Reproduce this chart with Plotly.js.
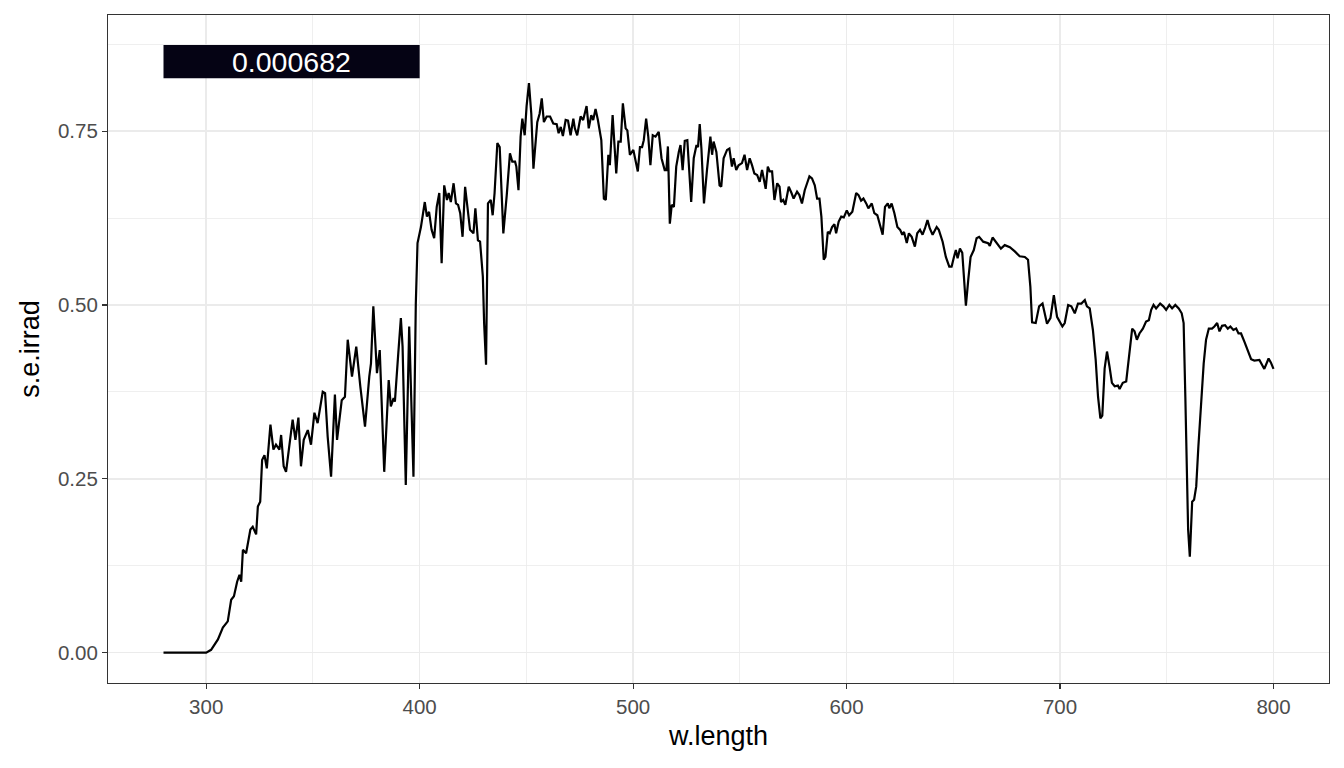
<!DOCTYPE html>
<html>
<head>
<meta charset="utf-8">
<script src="https://cdn.plot.ly/plotly-3.0.1.min.js"></script>
<style>html,body{margin:0;padding:0;background:#fff;}#chart{width:1344px;height:768px;}</style>
</head>
<body>
<div id="chart"></div>
<script>
const w_length = [280,300,302.3,305.5,307.8,310.1,311.7,313,314.5,315.6,316.4,317.2,318.7,320.7,321.8,323.4,324.2,325.3,326.2,327.3,328.4,330.1,331.5,332.7,334.3,335.1,336.3,337.4,340.5,341.8,343.2,344.4,345.7,347.6,349.1,350.7,352.2,354.6,355.7,356.9,358.5,360.3,361.3,363.5,365,366.3,368.3,370.3,372.2,374.4,376.4,377.2,378.3,380,381.3,383.4,385.5,386.5,387.8,388.4,390,391.2,392,393.5,395.1,397.1,398.2,399,400.6,402.4,403.4,404.4,405.6,406.8,408,409.2,410.3,411.5,412.8,413.6,414.6,415.9,417,418,419,420.1,421.3,422.4,423.6,425.2,426.1,427.3,428.3,429.6,430.2,431.1,432,433.3,434.2,435.1,436.4,437.5,439.2,440.8,442.3,443.4,444.7,445.3,446.3,447.3,448.1,449.2,450.1,451.2,452.3,453.3,455.1,456.2,457.2,458.2,459.5,461.1,462.6,464.2,465.1,466.1,467.1,468.4,469.5,470.7,472,472.7,473.8,475.4,476.6,478.2,479.2,480.4,481.3,482.4,483.5,485.1,486.3,487.2,488.4,489.1,490.4,492.1,493.1,494.2,495.2,496.5,497.3,498.5,500.1,502.2,503.2,504.2,505,506.1,507.1,508.1,509.2,510.5,512,513.3,514.8,515.6,516.3,517.2,518.1,519.1,520.2,521.4,522.2,523.2,524.2,525.4,527.2,528.4,529.7,530.4,531.2,532,533.2,534.6,536.2,537,537.7,539,540.5,541.3,542.4,544,545.1,546.3,547.1,548.3,549.4,551,552.2,553.4,554.6,555.7,556.8,558.1,559.3,560.4,561.2,562.1,563.1,564,565.1,566.2,567.5,568.6,569.3,570.3,571.3,572.9,574.2,575.2,576.8,577.9,579.1,580.4,581.5,582.6,583.8,585.1,586.2,587.3,588.2,589.3,590.1,591.2,592.1,593.2,594.3,595.1,596.3,597.5,598.7,600.1,601.2,602.7,604.5,605.6,606.8,607.9,609.2,610.2,611.8,613,614.4,615.7,616.9,618,619.3,620,621.1,622.4,623.8,625.1,626.1,626.9,628.2,629.2,630.5,632,633.1,634.4,635.6,636.7,637.9,639,640.3,642.2,643.2,645,646.5,648.1,649.2,650.3,651.2,652,653.1,654.2,654.9,655.9,657,658.1,659.6,660.9,662.1,664,666.3,667.1,668.4,669.4,671,672.3,674.1,676.5,678.8,681.1,683.5,685,686.1,686.9,688.6,690.2,691.8,693.9,695.5,697.1,698.6,701.1,702.2,703.8,705.3,706.9,708.4,710,711.6,712.6,713.9,715.4,716.7,717.8,718.9,719.8,720.9,722,723.2,724.3,725.6,727.1,727.9,729.4,731,732.6,733.8,734.9,736,737.2,738.8,740.3,741.6,742.7,743.8,745,746.9,748.4,749.7,751.2,752.5,754,755.6,757,757.9,758.7,759.5,760,760.8,761.9,762.8,763.8,764.8,766.1,767.3,768.4,769.7,771.2,772.3,773.6,774.7,775.9,777.3,778.6,779.8,781.2,782.5,783.6,784.8,786.4,787.9,789.5,791,793.4,795.7,797.7,798.8,800];
const s_e_irrad = [0,0,0.004,0.019,0.036,0.045,0.076,0.081,0.102,0.112,0.102,0.148,0.143,0.177,0.181,0.170,0.210,0.217,0.277,0.284,0.265,0.328,0.292,0.299,0.292,0.313,0.268,0.260,0.335,0.306,0.338,0.268,0.306,0.320,0.299,0.345,0.330,0.375,0.373,0.311,0.253,0.371,0.306,0.363,0.368,0.450,0.397,0.440,0.383,0.325,0.397,0.416,0.498,0.402,0.435,0.260,0.392,0.354,0.366,0.361,0.431,0.481,0.440,0.241,0.469,0.253,0.502,0.589,0.612,0.648,0.627,0.634,0.608,0.596,0.641,0.661,0.560,0.672,0.651,0.661,0.648,0.675,0.646,0.644,0.632,0.598,0.670,0.640,0.608,0.603,0.639,0.593,0.591,0.541,0.474,0.414,0.646,0.651,0.629,0.661,0.733,0.727,0.603,0.658,0.718,0.706,0.706,0.699,0.665,0.742,0.768,0.744,0.786,0.819,0.775,0.696,0.763,0.775,0.797,0.763,0.771,0.771,0.761,0.760,0.747,0.756,0.743,0.766,0.765,0.744,0.768,0.754,0.744,0.771,0.766,0.786,0.754,0.773,0.766,0.782,0.766,0.737,0.653,0.651,0.716,0.701,0.773,0.689,0.735,0.735,0.790,0.754,0.751,0.716,0.723,0.692,0.727,0.727,0.737,0.768,0.742,0.701,0.744,0.742,0.749,0.711,0.694,0.694,0.728,0.617,0.644,0.641,0.699,0.720,0.730,0.694,0.736,0.737,0.648,0.711,0.730,0.727,0.760,0.725,0.646,0.694,0.742,0.716,0.735,0.720,0.672,0.670,0.711,0.723,0.725,0.699,0.711,0.694,0.701,0.704,0.716,0.694,0.711,0.701,0.689,0.687,0.677,0.694,0.682,0.667,0.699,0.692,0.692,0.651,0.675,0.670,0.648,0.651,0.644,0.670,0.661,0.653,0.663,0.658,0.646,0.665,0.675,0.685,0.682,0.672,0.653,0.653,0.627,0.565,0.569,0.605,0.603,0.612,0.616,0.603,0.620,0.627,0.626,0.636,0.629,0.634,0.661,0.658,0.650,0.653,0.646,0.639,0.646,0.632,0.629,0.612,0.601,0.641,0.646,0.639,0.646,0.632,0.612,0.608,0.601,0.605,0.589,0.603,0.598,0.584,0.603,0.608,0.601,0.610,0.622,0.610,0.601,0.612,0.608,0.591,0.569,0.555,0.555,0.569,0.579,0.567,0.581,0.575,0.536,0.499,0.536,0.569,0.579,0.596,0.598,0.591,0.589,0.585,0.597,0.593,0.586,0.581,0.586,0.583,0.577,0.570,0.569,0.565,0.526,0.475,0.474,0.498,0.502,0.473,0.481,0.514,0.483,0.469,0.474,0.500,0.498,0.488,0.502,0.502,0.507,0.498,0.495,0.464,0.421,0.368,0.337,0.341,0.409,0.433,0.411,0.388,0.383,0.384,0.379,0.388,0.390,0.433,0.466,0.462,0.450,0.459,0.466,0.476,0.478,0.493,0.500,0.495,0.502,0.498,0.493,0.500,0.495,0.500,0.495,0.488,0.474,0.368,0.249,0.177,0.138,0.217,0.220,0.239,0.296,0.359,0.416,0.450,0.466,0.466,0.469,0.474,0.462,0.470,0.471,0.466,0.469,0.464,0.466,0.459,0.459,0.447,0.435,0.422,0.420,0.421,0.408,0.423,0.417,0.408];

const x_ticks = [300, 400, 500, 600, 700, 800];
const y_ticks = [0, 0.25, 0.5, 0.75];
const y_tick_labels = ["0.00", "0.25", "0.50", "0.75"];
const summary_band = [280, 400];
const summary_label = "0.000682";
const summary_y = [0.826, 0.874];

const FONT = "Liberation Sans, Arial, Helvetica, sans-serif";

const trace = {
  x: w_length, y: s_e_irrad, type: "scatter", mode: "lines",
  line: {color: "#000000", width: 2.2}, hoverinfo: "skip", showlegend: false
};

const layout = {
  width: 1344, height: 768,
  margin: {l: 108, r: 15, t: 15, b: 85},
  paper_bgcolor: "#ffffff", plot_bgcolor: "#ffffff",
  font: {family: FONT, color: "#000000"},
  xaxis: {
    range: [254, 826], tickvals: x_ticks, ticktext: x_ticks.map(String),
    showgrid: true, gridcolor: "#EBEBEB", gridwidth: 1.6,
    minor: {dtick: 50, tick0: 0, showgrid: true, gridcolor: "#EBEBEB", gridwidth: 0.8},
    zeroline: false, showline: true, mirror: true, linecolor: "#333333", linewidth: 1.1,
    ticks: "outside", ticklen: 5, tickwidth: 1.2, tickcolor: "#333333",
    tickfont: {family: FONT, size: 20.5, color: "#4D4D4D"},
    title: {text: "w.length", font: {family: FONT, size: 27, color: "#000000"}, standoff: 9}
  },
  yaxis: {
    range: [-0.0437, 0.917], tickvals: y_ticks, ticktext: y_tick_labels,
    showgrid: true, gridcolor: "#EBEBEB", gridwidth: 1.6,
    minor: {dtick: 0.125, tick0: 0, showgrid: true, gridcolor: "#EBEBEB", gridwidth: 0.8},
    zeroline: false, showline: true, mirror: true, linecolor: "#333333", linewidth: 1.1,
    ticks: "outside", ticklen: 5, tickwidth: 1.2, tickcolor: "#333333",
    tickfont: {family: FONT, size: 20.5, color: "#4D4D4D"},
    title: {text: "s.e.irrad", font: {family: FONT, size: 27, color: "#000000"}, standoff: 10}
  },
  shapes: [{
    type: "rect", xref: "x", yref: "y", layer: "above",
    x0: summary_band[0], x1: summary_band[1], y0: summary_y[0], y1: summary_y[1],
    fillcolor: "#050314", line: {width: 0}
  }],
  annotations: [{
    x: (summary_band[0] + summary_band[1]) / 2, y: (summary_y[0] + summary_y[1]) / 2,
    xref: "x", yref: "y", text: summary_label, showarrow: false,
    font: {family: FONT, size: 28.5, color: "#ffffff"}, xanchor: "center", yanchor: "middle"
  }]
};

Plotly.newPlot("chart", [trace], layout, {displayModeBar: false, staticPlot: true});
</script>
</body>
</html>
